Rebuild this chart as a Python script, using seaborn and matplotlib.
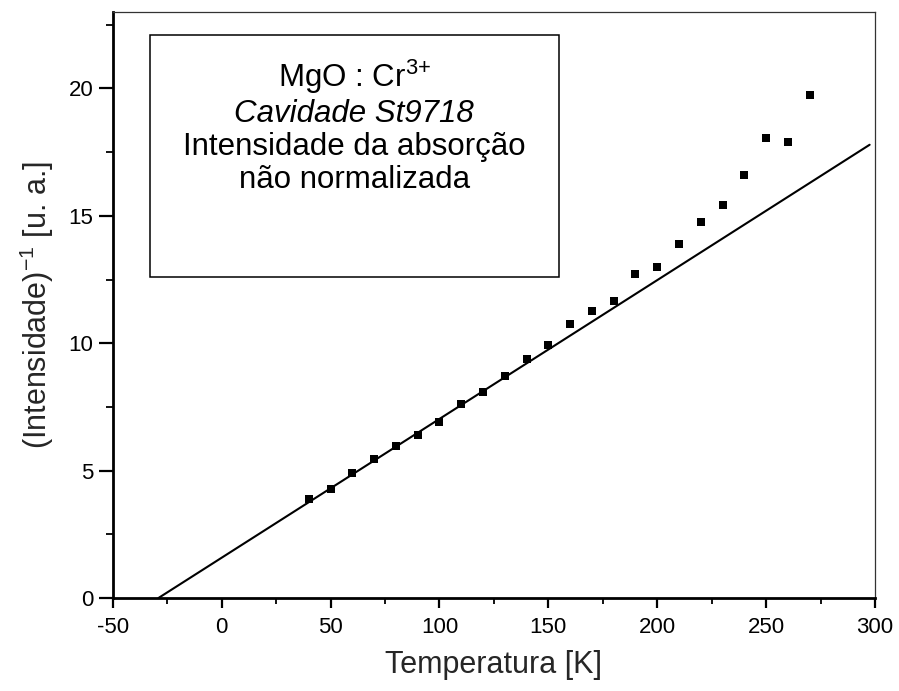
import numpy as np
import pandas as pd
import matplotlib
matplotlib.use("Agg")
import matplotlib.pyplot as plt
import seaborn as sns
from matplotlib.ticker import MultipleLocator

# ---- data ----
temperature = [40, 50, 60, 70, 80, 90, 100, 110, 120, 130, 140, 150,
               160, 170, 180, 190, 200, 210, 220, 230, 240, 250, 260, 270]
inv_intensity = [3.87, 4.29, 4.92, 5.45, 5.96, 6.38, 6.89, 7.61, 8.10, 8.70,
                 9.40, 9.94, 10.74, 11.27, 11.66, 12.72, 13.01, 13.88, 14.75,
                 15.43, 16.59, 18.05, 17.90, 19.75]
fit_temperature = [-29.0, 297.5]
fit_inv_intensity = [0.0, 17.79]

x_ticks = [-50, 0, 50, 100, 150, 200, 250, 300]
y_ticks = [0, 5, 10, 15, 20]
box_lines = ["MgO : Cr$^{3{+}}$", "Cavidade St9718",
             "Intensidade da absorção", "não normalizada"]

df = pd.DataFrame({"T": temperature, "I": inv_intensity})
df_fit = pd.DataFrame({"T": fit_temperature, "I": fit_inv_intensity})

sns.set_style("ticks")
plt.rcParams["font.family"] = ["Liberation Sans", "DejaVu Sans"]
plt.rcParams["mathtext.fontset"] = "custom"
plt.rcParams["mathtext.rm"] = "Liberation Sans"
plt.rcParams["mathtext.it"] = "Liberation Sans:italic"

fig = plt.figure(figsize=(8.99, 6.91), dpi=100)
ax = fig.add_axes([0.1254, 0.1346, 0.848, 0.848])

sns.lineplot(data=df_fit, x="T", y="I", ax=ax, color="black", linewidth=1.5)
sns.scatterplot(data=df, x="T", y="I", ax=ax, marker="s", s=32,
                color="black", linewidth=0, zorder=3)

ax.set_xlim(-50, 300)
ax.set_ylim(0, 23)
ax.set_xticks(x_ticks)
ax.set_yticks(y_ticks)
ax.set_xticklabels([str(v) for v in x_ticks])
ax.set_yticklabels([str(v) for v in y_ticks])
ax.xaxis.set_minor_locator(MultipleLocator(25))
ax.yaxis.set_minor_locator(MultipleLocator(2.5))
ax.tick_params(axis="both", which="major", direction="out", width=1.6,
               labelsize=16, color="black", labelcolor="black")
ax.tick_params(axis="both", which="minor", direction="out", width=1.3,
               color="black")
ax.tick_params(axis="x", which="major", length=7.5, pad=6)
ax.tick_params(axis="x", which="minor", length=4.5)
ax.tick_params(axis="y", which="major", length=10, pad=4)
ax.tick_params(axis="y", which="minor", length=5)

for side in ["left", "bottom"]:
    ax.spines[side].set_linewidth(2.0)
    ax.spines[side].set_color("black")
for side in ["top", "right"]:
    ax.spines[side].set_visible(True)
    ax.spines[side].set_linewidth(0.9)
    ax.spines[side].set_color("#333333")

ax.set_xlabel("Temperatura [K]", fontsize=22, labelpad=9)
ax.set_ylabel("(Intensidade)$^{-1}$ [u. a.]", fontsize=22)
ax.yaxis.set_label_coords(-0.074, 0.5)

# text box
rect = plt.Rectangle((0.049, 0.548), 0.537, 0.413, transform=ax.transAxes,
                     fill=False, edgecolor="black", linewidth=1.1, zorder=2)
ax.add_patch(rect)
baselines = [0.8725, 0.8128, 0.756, 0.699]
styles = ["normal", "italic", "normal", "normal"]
for txt, yb, st in zip(box_lines, baselines, styles):
    ax.text(0.3166, yb, txt, transform=ax.transAxes, ha="center",
            va="baseline", fontsize=22.5, style=st, color="black")

fig.savefig("out.png", dpi=100)
